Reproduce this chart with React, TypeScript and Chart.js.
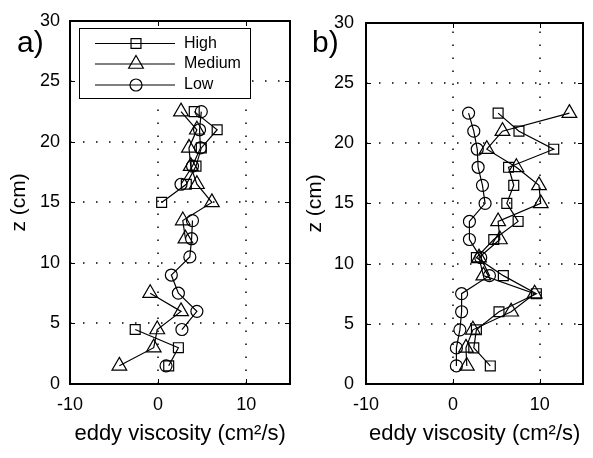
import React, { useEffect, useRef } from 'react';
import { Chart, registerables } from 'chart.js';

Chart.register(...registerables);

// ---- data ----
const zLevels = [1.5, 3, 4.5, 6, 7.5, 9, 10.5, 12, 13.5, 15, 16.5, 18, 19.5, 21, 22.5];

const seriesNames = ['High', 'Medium', 'Low'];

// panel a)
const aHigh = [1.2, 2.3, -2.6, null, null, null, null, null, null, 0.4, 3.2, 4.3, 4.9, 6.7, 4.1];
const aMedium = [-4.4, -0.5, -0.1, 2.6, -0.9, null, null, 3.1, 2.8, 6.1, 4.4, 3.7, 3.5, 4.4, 2.6];
const aLow = [0.9, null, 2.7, 4.4, 2.3, 1.5, 3.6, 3.8, 3.9, null, 2.6, 3.9, 4.8, 4.7, 4.9];

// panel b)
const bHigh = [4.3, 2.4, 2.7, 5.3, 9.6, 5.8, 2.7, 4.7, 7.5, 6.2, 7.0, 6.4, 11.6, 7.6, 5.2];
const bMedium = [1.6, 1.5, 2.3, 6.7, 9.4, 3.5, 3.0, 5.4, 5.2, 10.1, 9.9, 7.3, 3.9, 5.7, 13.4];
const bLow = [0.4, 0.4, 0.8, 1.0, 1.0, 4.2, 3.2, 1.9, 1.9, 3.7, 3.4, 2.9, 2.8, 2.4, 1.8];

const xTicks = [-10, 0, 10];
const yTicks = [0, 5, 10, 15, 20, 25, 30];
const xMin = -10;
const xMax = 15;
const yMin = 0;
const yMax = 30;

const xTitle = 'eddy viscosity (cm²/s)';
const yTitle = 'z (cm)';
const panelLabels = ['a)', 'b)'];

// ---- styles ----
const FONT = '"Liberation Sans", Arial, Helvetica, sans-serif';
const markerStyles = ['rect', 'triangle', 'circle'];
const markerRadii = [7, 8.5, 6];

type PanelCfg = {
  label: string;
  labelX: number;
  labelY: number;
  canvasLeft: number;
  canvasWidth: number;
  yAxisWidth: number;
  padRight: number;
  tickPad: number;
  legend: boolean;
  series: (number | null)[][];
};

const panels: PanelCfg[] = [
  { label: panelLabels[0], labelX: 17, labelY: 52, canvasLeft: 0, canvasWidth: 300, yAxisWidth: 70, padRight: 7, tickPad: 10, legend: true, series: [aHigh, aMedium, aLow] },
  { label: panelLabels[1], labelX: 16, labelY: 52, canvasLeft: 296, canvasWidth: 297, yAxisWidth: 70, padRight: 4, tickPad: 12, legend: false, series: [bHigh, bMedium, bLow] },
];

function toPoints(vals: (number | null)[]) {
  return vals.map((v, i) => ({ x: v, y: zLevels[i] }));
}

function drawMarker(ctx: CanvasRenderingContext2D, style: string, r: number, x: number, y: number) {
  ctx.beginPath();
  if (style === 'rect') {
    const s = r * Math.SQRT1_2;
    ctx.rect(x - s, y - s, 2 * s, 2 * s);
  } else if (style === 'triangle') {
    ctx.moveTo(x, y - r);
    ctx.lineTo(x + 0.866 * r, y + 0.5 * r);
    ctx.lineTo(x - 0.866 * r, y + 0.5 * r);
    ctx.closePath();
  } else {
    ctx.arc(x, y, r, 0, Math.PI * 2);
  }
  ctx.stroke();
}

const matlabPlugin = {
  id: 'matlabFrame',
  beforeDatasetsDraw(chart: any) {
    const { ctx, chartArea: a, scales } = chart;
    const xs = scales.x;
    const ys = scales.y;
    ctx.save();
    ctx.strokeStyle = '#000';
    ctx.lineWidth = 1.5;
    ctx.setLineDash([1.5, 11.5]);
    xs.ticks.forEach((t: any) => {
      if (t.value <= xMin || t.value >= xMax) return;
      const px = Math.round(xs.getPixelForValue(t.value));
      ctx.beginPath();
      ctx.moveTo(px, a.bottom);
      ctx.lineTo(px, a.top);
      ctx.stroke();
    });
    ys.ticks.forEach((t: any) => {
      if (t.value <= yMin || t.value >= yMax) return;
      const py = Math.round(ys.getPixelForValue(t.value));
      ctx.beginPath();
      ctx.moveTo(a.left, py);
      ctx.lineTo(a.right, py);
      ctx.stroke();
    });
    ctx.restore();
  },
  afterDraw(chart: any, _args: any, opts: any) {
    const ctx: CanvasRenderingContext2D = chart.ctx;
    const a = chart.chartArea;
    const xs = chart.scales.x;
    const ys = chart.scales.y;
    const L = Math.round(a.left);
    const R = Math.round(a.right);
    const T = Math.round(a.top);
    const B = Math.round(a.bottom);
    ctx.save();
    ctx.setLineDash([]);
    ctx.globalAlpha = 1;
    ctx.strokeStyle = '#000000';
    ctx.fillStyle = '#000000';

    // frame (as filled bars for crispness)
    const fw = 2;
    ctx.fillRect(L - 1, T - 1, R - L + 2, fw);
    ctx.fillRect(L - 1, B - 1, R - L + 2, fw);
    ctx.fillRect(L - 1, T - 1, fw, B - T + 2);
    ctx.fillRect(R - 1, T - 1, fw, B - T + 2);

    // inward ticks
    const tl = 5;
    xs.ticks.forEach((t: any) => {
      const px = Math.round(xs.getPixelForValue(t.value));
      ctx.fillRect(px, B - tl, 1, tl);
      ctx.fillRect(px, T, 1, tl);
    });
    ys.ticks.forEach((t: any) => {
      const py = Math.round(ys.getPixelForValue(t.value));
      ctx.fillRect(L, py, tl, 1);
      ctx.fillRect(R - tl, py, tl, 1);
    });

    // panel label
    ctx.font = `30px ${FONT}`;
    ctx.textBaseline = 'alphabetic';
    ctx.textAlign = 'left';
    ctx.fillText(opts.label, opts.labelX, opts.labelY);

    // legend
    if (opts.legend) {
      const bx = 79, by = 28, bw = 171, bh = 70;
      ctx.fillStyle = '#fff';
      ctx.fillRect(bx, by, bw, bh);
      ctx.lineWidth = 1;
      ctx.strokeStyle = '#000';
      ctx.strokeRect(bx + 0.5, by + 0.5, bw, bh);
      const rows = [43.5, 64, 85];
      ctx.font = `16px ${FONT}`;
      ctx.textBaseline = 'middle';
      chart.data.datasets.forEach((ds: any, i: number) => {
        const y = rows[i];
        ctx.lineWidth = 1.2;
        ctx.strokeStyle = '#000';
        ctx.beginPath();
        ctx.moveTo(95, y);
        ctx.lineTo(175, y);
        ctx.stroke();
        drawMarker(ctx, ds.pointStyle, ds.pointRadius, 136, y);
        ctx.fillStyle = '#000';
        ctx.fillText(ds.label, 184, y);
      });
    }
    ctx.restore();
  },
};

function Panel({ cfg }: { cfg: PanelCfg }) {
  const ref = useRef<HTMLCanvasElement>(null);
  useEffect(() => {
    if (!ref.current) return;
    const datasets = cfg.series.map((vals, i) => ({
      label: seriesNames[i],
      data: toPoints(vals),
      borderColor: '#000',
      borderWidth: 1.2,
      backgroundColor: 'rgba(0,0,0,0)',
      pointStyle: markerStyles[i],
      pointRadius: markerRadii[i],
      pointBorderWidth: 1.2,
      pointBorderColor: '#000',
      pointBackgroundColor: 'rgba(0,0,0,0)',
      showLine: true,
      spanGaps: false,
      tension: 0,
      fill: false,
    }));
    const chart = new Chart(ref.current, {
      type: 'line',
      data: { datasets },
      plugins: [matlabPlugin],
      options: {
        animation: false,
        responsive: false,
        maintainAspectRatio: false,
        events: [],
        layout: { padding: { top: 19, right: cfg.padRight, bottom: 0, left: 0 } },
        plugins: {
          legend: { display: false },
          tooltip: { enabled: false },
          matlabFrame: { label: cfg.label, labelX: cfg.labelX, labelY: cfg.labelY, legend: cfg.legend },
        } as any,
        scales: {
          x: {
            type: 'linear',
            min: xMin,
            max: xMax,
            afterBuildTicks: (s: any) => { s.ticks = xTicks.map((v) => ({ value: v })); },
            afterFit: (s: any) => { s.height = 74; },
            grid: { display: false, drawTicks: false },
            border: { display: false },
            ticks: { color: '#000', font: { family: FONT, size: 18 }, padding: 10, maxRotation: 0, autoSkip: false, callback: (v: any) => String(v) },
            title: { display: true, text: xTitle, color: '#000', font: { family: FONT, size: 22 }, padding: { top: 0, bottom: 11 } },
          },
          y: {
            type: 'linear',
            min: yMin,
            max: yMax,
            afterBuildTicks: (s: any) => { s.ticks = yTicks.map((v) => ({ value: v })); },
            afterFit: (s: any) => { s.width = cfg.yAxisWidth; },
            grid: { display: false, drawTicks: false },
            border: { display: false },
            ticks: { color: '#000', font: { family: FONT, size: 18 }, padding: cfg.tickPad, autoSkip: false, callback: (v: any) => String(v) },
            title: { display: true, text: yTitle, color: '#000', font: { family: FONT, size: 21 }, padding: { top: 7, bottom: 0 } },
          },
        },
      } as any,
    });
    return () => chart.destroy();
  }, [cfg]);
  return (
    <canvas
      ref={ref}
      width={cfg.canvasWidth}
      height={458}
      style={{ position: 'absolute', left: cfg.canvasLeft, top: 0, width: cfg.canvasWidth, height: 458, display: 'block' }}
    />
  );
}

export default function App() {
  return (
    <div style={{ position: 'absolute', left: 0, top: 0, width: 593, height: 458, background: '#fff', overflow: 'hidden' }}>
      {panels.map((p, i) => (
        <Panel key={i} cfg={p} />
      ))}
    </div>
  );
}
